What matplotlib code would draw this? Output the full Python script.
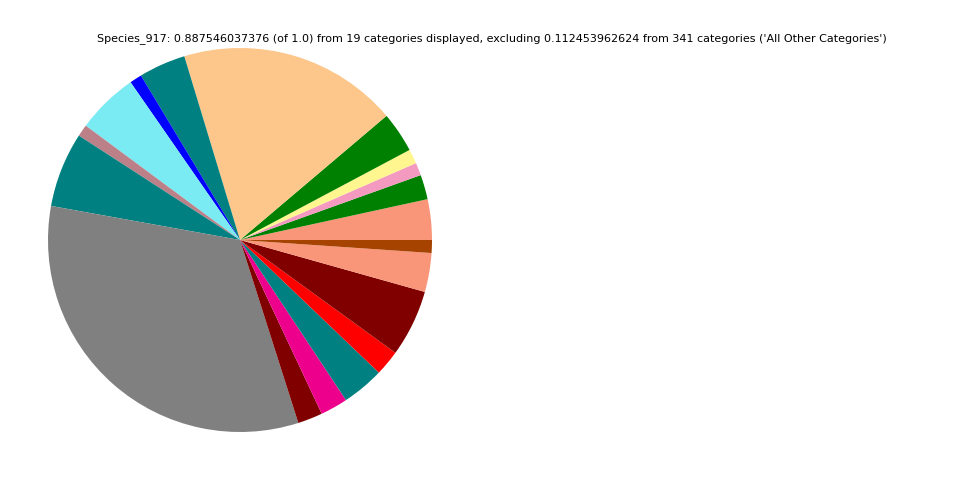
import matplotlib
matplotlib.use("Agg")
import matplotlib.pyplot as plt

# Fractions (of 1.0) for the 19 displayed categories, counterclockwise from 0 deg
fractions = [0.0303, 0.0184, 0.0095, 0.0108, 0.0303, 0.1642, 0.0350, 0.0091,
             0.0461, 0.0089, 0.0560, 0.2907, 0.0185, 0.0205, 0.0316, 0.0190,
             0.0500, 0.0291, 0.0096]
colors = ["#F9967A", "#008000", "#F49AC1", "#FFF68F", "#008000", "#FDC68A",
          "#008080", "#0000FF", "#7AEBF2", "#BB8088", "#008080", "#808080",
          "#800000", "#EC008C", "#008080", "#FF0000", "#800000", "#F9967A",
          "#A64300"]

title = ("Species_917: 0.887546037376 (of 1.0) from 19 categories displayed, "
         "excluding 0.112453962624 from 341 categories ('All Other Categories')")

fig = plt.figure(figsize=(9.6, 4.8), dpi=100)
ax = fig.add_axes([0.0, 0.0, 0.5, 1.0])
ax.pie(fractions, colors=colors, startangle=0, counterclock=True)
ax.set_aspect("equal")

fig.text(0.5125, 0.919, title, ha="center", va="center", fontsize=8)

fig.savefig("out.png", dpi=100)
